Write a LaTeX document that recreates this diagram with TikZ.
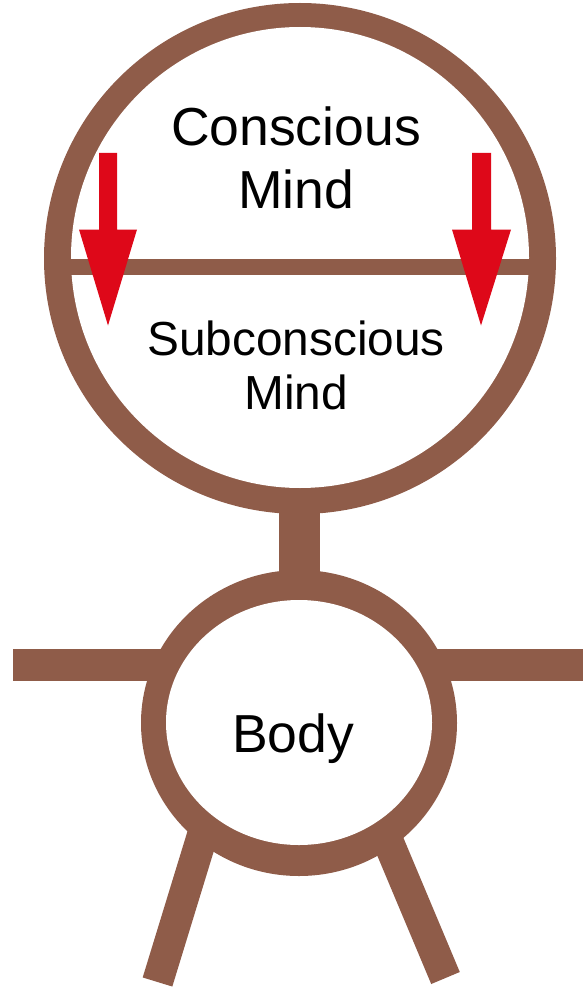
\documentclass[tikz,border=0pt]{standalone}
\usepackage{fontspec}
\setmainfont{Liberation Sans}
\definecolor{limbbrown}{RGB}{143,92,73}
\definecolor{arrowred}{RGB}{222,8,25}
\tikzset{
  limb/.style={draw=limbbrown, line width=31pt},
  ringout/.style={fill=limbbrown, draw=none},
  ringin/.style={fill=white, draw=none},
  downarrow/.style={fill=arrowred, draw=none},
  label/.style={font=\fontsize{53.5}{63}\selectfont, align=center},
  sublabel/.style={font=\fontsize{47.8}{54}\selectfont, align=center},
}
\begin{document}
\begin{tikzpicture}[x=1pt,y=-1pt]
  \useasboundingbox (0,0) rectangle (583,987);
  \coordinate (neckTop) at (299,500);
  \coordinate (neckBottom) at (299,590);
  \coordinate (armLeftEnd) at (13,665);
  \coordinate (armLeftStart) at (170,665);
  \coordinate (armRightEnd) at (583,665);
  \coordinate (armRightStart) at (430,665);
  \coordinate (legLeftEnd) at (157.5,982);
  \coordinate (legLeftStart) at (205,827);
  \coordinate (legRightEnd) at (445.5,978);
  \coordinate (legRightStart) at (385,834);
  \draw[limb, line width=41pt] (neckTop) -- (neckBottom);
  \draw[limb, line width=32pt] (armLeftEnd) -- (armLeftStart);
  \draw[limb, line width=32pt] (armRightEnd) -- (armRightStart);
  \draw[limb] (legLeftEnd) -- (legLeftStart);
  \draw[limb] (legRightEnd) -- (legRightStart);
  \fill[ringout] (300,258.5) ellipse (256 and 255.5);
  \fill[ringin] (300,257.5) ellipse (229 and 230.5);
  \fill[ringout] (299,723) ellipse (158 and 153);
  \fill[ringin] (299,722.5) ellipse (133 and 122.5);
  \coordinate (dividerLeft) at (60,267);
  \coordinate (dividerRight) at (540,267);
  \draw[draw=limbbrown, line width=16pt] (dividerLeft) -- (dividerRight);
  \fill[downarrow] (99,153) -- (117,153) -- (117,229.5) -- (137,229.5) -- (108,325.5) -- (79,229.5) -- (99,229.5) -- cycle;
  \fill[downarrow] (472,153) -- (491,153) -- (491,229.5) -- (511,229.5) -- (481,325.5) -- (452,229.5) -- (472,229.5) -- cycle;
  \node[label] (conscious) at (296,158) {Conscious\\Mind};
  \node[sublabel] (subconscious) at (296,365) {Subconscious\\Mind};
  \node[label] (body) at (293,739) {Body};
\end{tikzpicture}
\end{document}
